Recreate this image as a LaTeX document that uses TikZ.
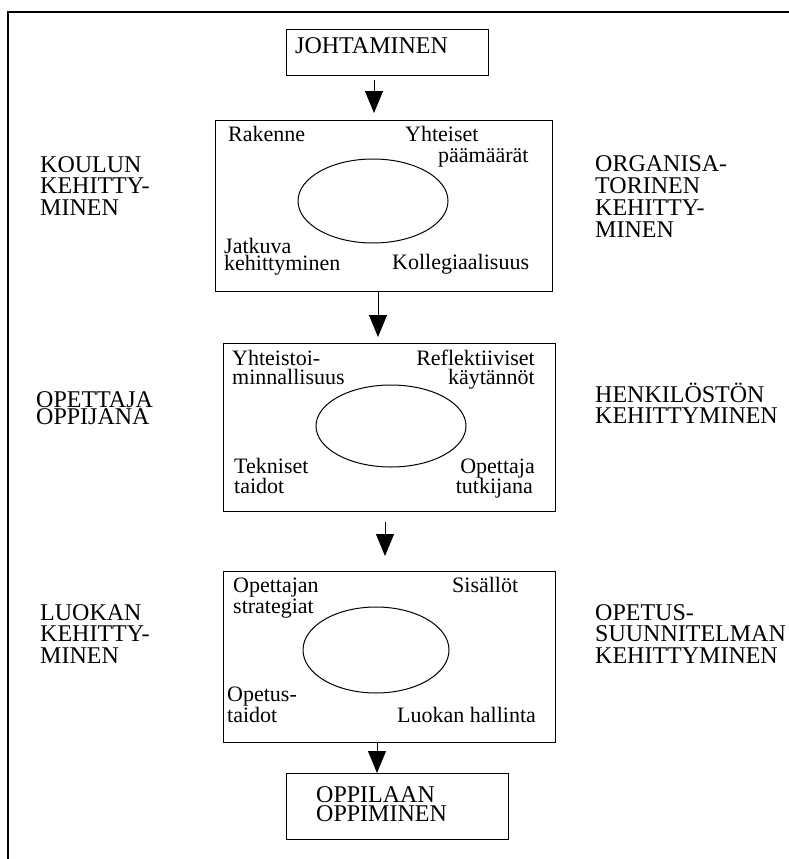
\documentclass[tikz,border=0pt]{standalone}
\usepackage{fontspec}
\setmainfont{Liberation Serif}
\usetikzlibrary{arrows.meta,shapes.geometric}
% let stacked caps lines sit closer than their glyph boxes
\AtBeginDocument{\lineskiplimit=-100pt\relax}

\begin{document}
\begin{tikzpicture}[x=1pt,y=-1pt,
  frameline/.style={line width=2.2pt, line join=miter},
  levelbox/.style={draw, line width=1.4pt, inner sep=0pt, anchor=north west},
  ring/.style={draw, ellipse, line width=1pt, inner sep=0pt},
  flow/.style={line width=1pt, -{Triangle[width=18pt,length=22pt]}},
  capsfont/.style={font=\fontsize{24}{21.5}\selectfont},
  sidefont/.style={font=\fontsize{24}{#1}\selectfont, align=left, inner sep=0pt},
  sidefont/.default=21.5,
  itemfont/.style={font=\fontsize{22}{19}\selectfont, inner sep=0pt},
]
\useasboundingbox (0,0) rectangle (789,859);

% outer frame (left and top edges)
\draw[frameline] (8,859) -- (8,12) -- (789,12);

% top and bottom boxes
\node[levelbox, minimum width=202pt, minimum height=46pt] (johta) at (286,29) {};
\node[capsfont, inner sep=0pt, anchor=base west] (johtatxt) at (295,53) {JOHTAMINEN};

\node[levelbox, minimum width=222pt, minimum height=66pt] (oppi) at (286,773) {};
\node[sidefont=19, anchor=base west] (oppitxt) at (316,821) {OPPILAAN\\OPPIMINEN};

% three level boxes with their rings
\node[levelbox, minimum width=337pt, minimum height=171pt] (box1) at (215,120) {};
\node[levelbox, minimum width=332pt, minimum height=168pt] (box2) at (223,343) {};
\node[levelbox, minimum width=332pt, minimum height=171pt] (box3) at (223,571) {};

\node[ring, minimum width=150pt, minimum height=84pt] (ring1) at (373,201) {};
\node[ring, minimum width=150pt, minimum height=82pt] (ring2) at (391,426) {};
\node[ring, minimum width=146pt, minimum height=86pt] (ring3) at (376,650) {};

% box 1 items
\node[itemfont, anchor=base west] (rak) at (228,141) {Rakenne};
\node[itemfont, anchor=base west] (yht1) at (405,141) {Yhteiset};
\node[itemfont, anchor=base west] (yht2) at (438,162) {päämäärät};
\node[itemfont, anchor=base west] (jat1) at (224,253) {Jatkuva};
\node[itemfont, anchor=base west] (jat2) at (224,270) {kehittyminen};
\node[itemfont, anchor=base west] (kol) at (392,269) {Kollegiaalisuus};

% box 2 items
\node[itemfont, anchor=base west] (yt1) at (232,365) {Yhteistoi-};
\node[itemfont, anchor=base west] (yt2) at (232,384) {minnallisuus};
\node[itemfont, anchor=base east] (ref1) at (535,365) {Reflektiiviset};
\node[itemfont, anchor=base east] (ref2) at (535,384) {käytännöt};
\node[itemfont, anchor=base west] (tek1) at (234,473) {Tekniset};
\node[itemfont, anchor=base west] (tek2) at (234,493) {taidot};
\node[itemfont, anchor=base east] (ope1) at (535,473) {Opettaja};
\node[itemfont, anchor=base east] (ope2) at (533,493) {tutkijana};

% box 3 items
\node[itemfont, anchor=base west] (str1) at (233,592) {Opettajan};
\node[itemfont, anchor=base west] (str2) at (233,613) {strategiat};
\node[itemfont, anchor=base west] (sis) at (452,592) {Sisällöt};
\node[itemfont, anchor=base west] (opt1) at (227,701) {Opetus-};
\node[itemfont, anchor=base west] (opt2) at (227,722) {taidot};
\node[itemfont, anchor=base west] (lh) at (397,722) {Luokan hallinta};

% side labels (anchored at the baseline of their last line)
\node[sidefont, anchor=base west] (koulu) at (40,215) {KOULUN\\KEHITTY-\\MINEN};
\node[sidefont=17, anchor=base west] (opop) at (36,424) {OPETTAJA\\OPPIJANA};
\node[sidefont, anchor=base west] (luokka) at (40,663) {LUOKAN\\KEHITTY-\\MINEN};
\node[sidefont=21.7, anchor=base west] (org) at (595,237) {ORGANISA-\\TORINEN\\KEHITTY-\\MINEN};
\node[sidefont=21, anchor=base west] (henk) at (595,423) {HENKILÖSTÖN\\KEHITTYMINEN};
\node[sidefont, anchor=base west] (ops) at (595,663) {OPETUS-\\SUUNNITELMAN\\KEHITTYMINEN};

% connectors
\coordinate (a1s) at (374,80);   \coordinate (a1e) at (374,113);
\coordinate (a2s) at (378,291);  \coordinate (a2e) at (378,337);
\coordinate (a3s) at (385,522);  \coordinate (a3e) at (385,556);
\coordinate (a4s) at (377,742);  \coordinate (a4e) at (377,773);
\draw[flow] (a1s) -- (a1e);
\draw[flow] (a2s) -- (a2e);
\draw[flow] (a3s) -- (a3e);
\draw[flow] (a4s) -- (a4e);
\end{tikzpicture}
\end{document}
